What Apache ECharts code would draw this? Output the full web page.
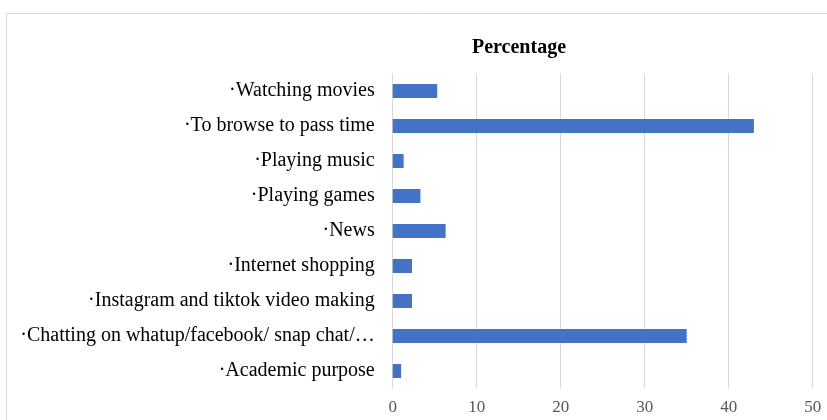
<!DOCTYPE html>
<html>
<head>
<meta charset="utf-8">
<script src="https://cdn.jsdelivr.net/npm/echarts@6/dist/echarts.min.js"></script>
<style>
  html, body { margin: 0; padding: 0; background: #fff; }
  #chart { width: 827px; height: 420px; }
</style>
</head>
<body>
<div id="chart"></div>
<script>
// Activities, listed top to bottom
const categories = [
  '·Watching movies',
  '·To browse to pass time',
  '·Playing music',
  '·Playing games',
  '·News',
  '·Internet shopping',
  '·Instagram and tiktok video making',
  '·Chatting on whatup/facebook/ snap chat/…',
  '·Academic purpose'
];
// Share of respondents (%)
const percentages = [5.3, 43.0, 1.3, 3.3, 6.3, 2.3, 2.3, 35.0, 1.0];
const seriesName = 'Percentage';

const chart = echarts.init(document.getElementById('chart'), null, { renderer: 'canvas' });
const serif = '"Liberation Serif", "Times New Roman", serif';

chart.setOption({
  animation: false,
  backgroundColor: '#fff',
  title: {
    text: seriesName,
    left: 467,
    top: 33,
    textStyle: { fontFamily: serif, fontSize: 20, fontWeight: 'bold', color: '#000' }
  },
  graphic: [{
    type: 'rect',
    shape: { x: 6.5, y: 13.5, width: 900, height: 500 },
    style: { fill: 'none', stroke: '#d9d9d9', lineWidth: 1 },
    silent: true
  }],
  grid: { left: 392.7, width: 420, top: 73.5, height: 315 },
  xAxis: {
    type: 'value',
    min: 0,
    max: 50,
    interval: 10,
    axisLine: { show: false },
    axisTick: { show: false },
    axisLabel: { fontFamily: serif, fontSize: 17, color: '#595959', margin: 11 },
    splitLine: { lineStyle: { color: '#d9d9d9', width: 1 } }
  },
  yAxis: {
    type: 'category',
    inverse: true,
    data: categories,
    axisLine: { show: false },
    axisTick: { show: false },
    axisLabel: { fontFamily: serif, fontSize: 20, color: '#000', margin: 18, padding: [5, 0, 0, 0] }
  },
  series: [{
    name: seriesName,
    type: 'bar',
    data: percentages,
    barWidth: 14,
    itemStyle: { color: '#4472C4' }
  }]
});
</script>
</body>
</html>
